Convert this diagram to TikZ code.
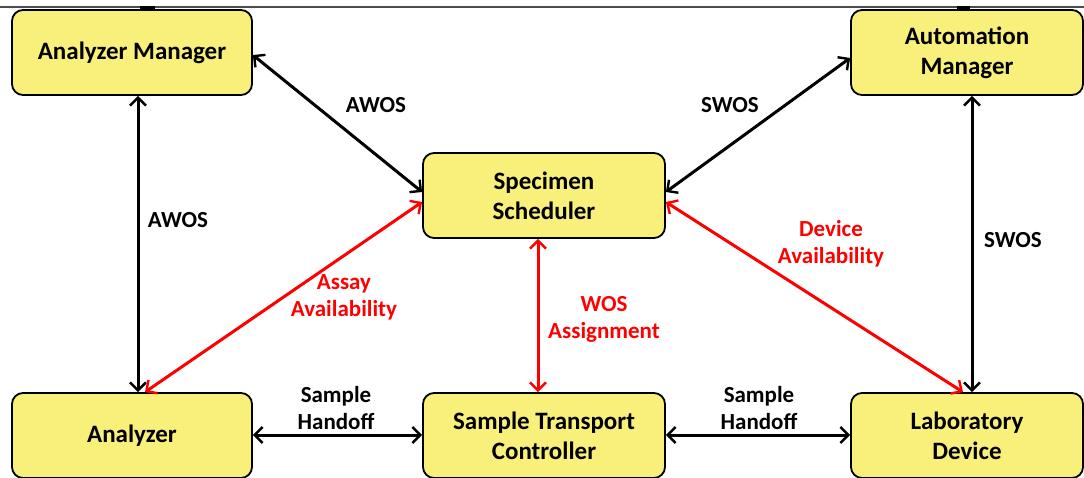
\documentclass[tikz,border=0pt]{standalone}
\usepackage{fontspec}
\setmainfont{Carlito}
\usetikzlibrary{arrows.meta}
\definecolor{boxyellow}{RGB}{248,240,122}
\definecolor{lblred}{RGB}{255,0,0}
\begin{document}
\begin{tikzpicture}[x=1pt,y=-1pt,
  >={Straight Barb[length=8pt,width=16pt,line width=2.4pt]},
  box/.style={draw=black, line width=1.8pt, fill=boxyellow, rounded corners=11pt, inner sep=0pt,
    font=\bfseries\fontsize{25}{30}\selectfont, align=center},
  lbl/.style={font=\bfseries\fontsize{23}{27}\selectfont, align=center, inner sep=0pt},
  conn/.style={line width=3pt, black, <->},
  rconn/.style={line width=3pt, lblred, <->},
]
\useasboundingbox (0,0) rectangle (1084,477);
\begin{scope}
\clip (0,0) rectangle (1084,477);
% top rule
\draw[gray!60!black, line width=1.4pt] (0,7) -- (1084,7);
\draw[black, line width=3pt] (140,7) -- (155,7);
\draw[black, line width=3pt] (957,7) -- (970,7);

% boxes
\node[box, minimum width=240pt, minimum height=85pt] (am)  at (132,52.5) {Analyzer Manager};
\node[box, minimum width=232pt, minimum height=85pt] (aum) at (967,52.5) {Automation\\Manager};
\node[box, minimum width=242pt, minimum height=85pt] (ss)  at (544,195.5) {Specimen\\Scheduler};
\node[box, minimum width=240pt, minimum height=85pt] (an)  at (132,435.5) {Analyzer};
\node[box, minimum width=242pt, minimum height=85pt] (stc) at (544,435.5) {Sample Transport\\Controller};
\node[box, minimum width=232pt, minimum height=85pt] (ld)  at (967,435.5) {Laboratory\\Device};
\end{scope}

% black connectors
\draw[conn] (am.south -| 138,0) -- (an.north -| 138,0);
\draw[conn] (aum.south -| 972,0) -- (ld.north -| 972,0);
\draw[conn] (am.east |- 0,55) -- (ss.west |- 0,192);
\draw[conn] (aum.west |- 0,58) -- (ss.east |- 0,192);
\draw[conn] (an.east |- 0,435) -- (stc.west |- 0,435);
\draw[conn] (stc.east |- 0,435) -- (ld.west |- 0,435);

% red connectors
\draw[rconn] (ss.west |- 0,202) -- (an.north -| 145,0);
\draw[rconn] (ss.east |- 0,202) -- (ld.north -| 963,0);
\draw[rconn] (ss.south -| 538,0) -- (stc.north -| 538,0);

% labels
\node[lbl] (l1) at (376,105) {AWOS};
\node[lbl] (l2) at (730,105) {SWOS};
\node[lbl] (l3) at (178,220) {AWOS};
\node[lbl] (l4) at (1013,240) {SWOS};
\node[lbl, text=lblred] (l5) at (344,297.5) {Assay\\Availability};
\node[lbl, text=lblred] (l6) at (831,243.5) {Device\\Availability};
\node[lbl, text=lblred] (l7) at (604,319) {WOS\\Assignment};
\node[lbl] (l8) at (336,408) {Sample\\Handoff};
\node[lbl] (l9) at (759,408.5) {Sample\\Handoff};
\end{tikzpicture}
\end{document}
